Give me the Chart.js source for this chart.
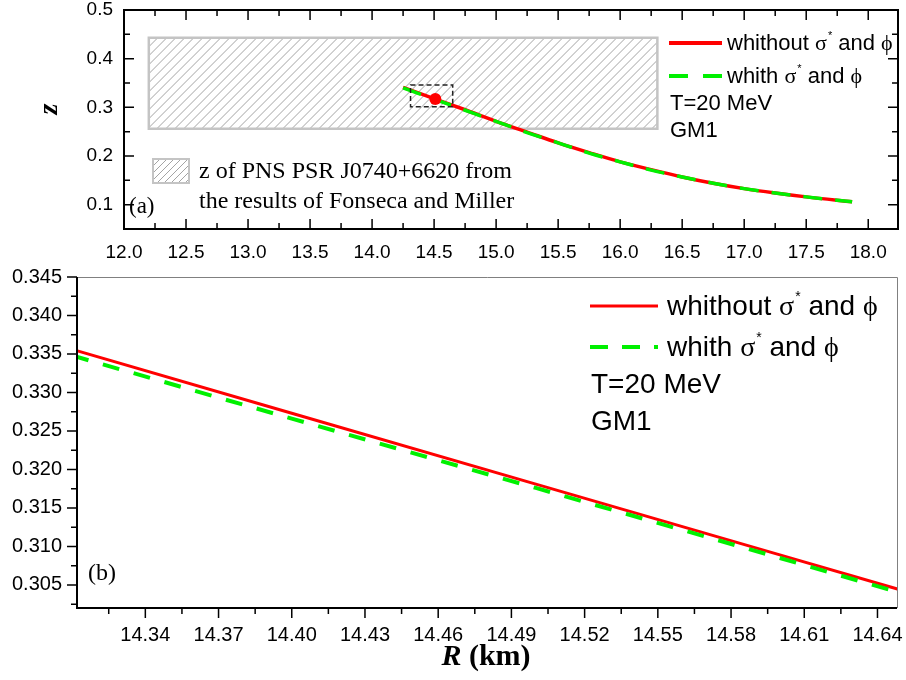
<!doctype html>
<html>
<head>
  <meta charset="UTF-8">
  <script src="https://cdn.jsdelivr.net/npm/chart.js"></script>
  <style>
    body { margin: 0; background: #fff; }
    #wrap { position: relative; width: 906px; height: 680px; }
    canvas { position: absolute; left: 0; }
  </style>
</head>
<body>
<div id="wrap">
  <canvas id="topChart" width="906" height="262" style="top:0"></canvas>
  <canvas id="zoomChart" width="906" height="418" style="top:262px"></canvas>
</div>
<script>
  // panel (a): z vs R, whole curve
  const rTop = [14.25, 14.5, 14.75, 15.0, 15.25, 15.5, 15.75, 16.0, 16.25, 16.5, 16.75, 17.0, 17.25, 17.5, 17.87];
  const zTopNoHyp = [0.341, 0.318, 0.295, 0.271, 0.249, 0.227, 0.207, 0.188, 0.172, 0.157, 0.144, 0.133, 0.124, 0.116, 0.106];
  const zTopHyp = [0.340, 0.317, 0.294, 0.271, 0.248, 0.227, 0.206, 0.188, 0.171, 0.157, 0.144, 0.133, 0.124, 0.116, 0.106];
  const topTicksX = [12.0, 12.5, 13.0, 13.5, 14.0, 14.5, 15.0, 15.5, 16.0, 16.5, 17.0, 17.5, 18.0];
  const topTicksY = [0.1, 0.2, 0.3, 0.4, 0.5];

  // PSR J0740+6620 band, zoom box and marked star
  const bandR = [12.2, 16.3];
  const bandZ = [0.256, 0.443];
  const boxR = [14.31, 14.65];
  const boxZ = [0.301, 0.346];
  const starR = [14.51];
  const starZ = [0.317];

  // panel (b): zoom
  const rZoom = [14.31, 14.40, 14.50, 14.60, 14.65];
  const zZoomNoHyp = [0.3356, 0.3273, 0.3181, 0.3089, 0.3043];
  const zZoomHyp = [0.3348, 0.3266, 0.3176, 0.3085, 0.3039];
  const zoomTicksX = [14.34, 14.37, 14.40, 14.43, 14.46, 14.49, 14.52, 14.55, 14.58, 14.61, 14.64];
  const zoomTicksY = [0.305, 0.310, 0.315, 0.320, 0.325, 0.330, 0.335, 0.340, 0.345];

  const RED = '#ff0000';
  const GREEN = '#00f000';
  const SANS = '"Liberation Sans", Arial, sans-serif';
  const SERIF = '"Liberation Serif", "Times New Roman", serif';

  const pts = (xs, ys) => xs.map((x, i) => ({ x: x, y: ys[i] }));

  // minor ticks halfway between majors, plus one step outside if still on the axis
  function minors(major, min, max) {
    const step = major[1] - major[0];
    const out = [];
    const list = [major[0] - step].concat(major);
    for (let i = 0; i < list.length; i++) {
      const m = list[i] + step / 2;
      if (m > min && m < max) out.push(m);
    }
    return out;
  }

  function sigmaLabel(ctx, x, y, size, word) {
    ctx.textAlign = 'left';
    ctx.textBaseline = 'alphabetic';
    ctx.font = size + 'px ' + SANS;
    ctx.fillText(word + ' ', x, y);
    x += ctx.measureText(word + ' ').width;
    ctx.font = size + 'px ' + SERIF;
    ctx.fillText('σ', x, y);
    x += ctx.measureText('σ').width;
    ctx.font = Math.round(size * 0.5) + 'px ' + SANS;
    ctx.fillText('*', x + 1, y - size * 0.5);
    x += ctx.measureText('*').width + 1;
    ctx.font = size + 'px ' + SANS;
    ctx.fillText(' and ', x, y);
    x += ctx.measureText(' and ').width;
    ctx.font = size + 'px ' + SERIF;
    ctx.fillText('ϕ', x, y);
  }

  function legendLine(ctx, x0, x1, y, color, width, dash) {
    ctx.save();
    ctx.strokeStyle = color;
    ctx.lineWidth = width;
    ctx.setLineDash(dash);
    ctx.beginPath();
    ctx.moveTo(x0, y);
    ctx.lineTo(x1, y);
    ctx.stroke();
    ctx.restore();
  }

  function hatchRect(ctx, x0, y0, x1, y1, step, border) {
    ctx.save();
    ctx.fillStyle = '#fff';
    ctx.fillRect(x0, y0, x1 - x0, y1 - y0);
    ctx.beginPath();
    ctx.rect(x0, y0, x1 - x0, y1 - y0);
    ctx.clip();
    ctx.strokeStyle = '#a4a4a4';
    ctx.lineWidth = 1;
    ctx.beginPath();
    const h = y1 - y0;
    for (let x = x0 - h; x < x1 + step; x += step) {
      ctx.moveTo(x, y1);
      ctx.lineTo(x + h, y0);
    }
    ctx.stroke();
    ctx.restore();
    ctx.save();
    ctx.strokeStyle = '#c4c4c4';
    ctx.lineWidth = border;
    ctx.strokeRect(x0, y0, x1 - x0, y1 - y0);
    ctx.restore();
  }

  const topPanel = {
    id: 'topPanel',
    beforeDatasetsDraw(chart) {
      const ctx = chart.ctx, xs = chart.scales.x, ys = chart.scales.y;
      hatchRect(ctx, xs.getPixelForValue(bandR[0]), ys.getPixelForValue(bandZ[1]),
        xs.getPixelForValue(bandR[1]), ys.getPixelForValue(bandZ[0]), 9, 2.5);
    },
    afterDatasetsDraw(chart) {
      const ctx = chart.ctx, xs = chart.scales.x, ys = chart.scales.y, a = chart.chartArea;
      ctx.save();
      // zoom box
      ctx.strokeStyle = '#222';
      ctx.lineWidth = 1.5;
      ctx.setLineDash([5, 3]);
      const bx0 = xs.getPixelForValue(boxR[0]), bx1 = xs.getPixelForValue(boxR[1]);
      const by0 = ys.getPixelForValue(boxZ[1]), by1 = ys.getPixelForValue(boxZ[0]);
      ctx.strokeRect(bx0, by0, bx1 - bx0, by1 - by0);
      ctx.setLineDash([]);

      // frame and inward ticks
      ctx.strokeStyle = '#000';
      ctx.lineWidth = 2;
      ctx.strokeRect(a.left, a.top, a.right - a.left, a.bottom - a.top);
      ctx.lineWidth = 1.5;
      ctx.beginPath();
      const tx = (v, len) => {
        const p = xs.getPixelForValue(v);
        ctx.moveTo(p, a.bottom); ctx.lineTo(p, a.bottom - len);
        ctx.moveTo(p, a.top); ctx.lineTo(p, a.top + len);
      };
      const ty = (v, len) => {
        const p = ys.getPixelForValue(v);
        ctx.moveTo(a.left, p); ctx.lineTo(a.left + len, p);
        ctx.moveTo(a.right, p); ctx.lineTo(a.right - len, p);
      };
      topTicksX.forEach(v => tx(v, 10));
      minors(topTicksX, xs.min, xs.max).forEach(v => tx(v, 6));
      topTicksY.forEach(v => ty(v, 10));
      minors(topTicksY, ys.min, ys.max).forEach(v => ty(v, 6));
      ctx.stroke();

      // legend
      legendLine(ctx, 669, 722, 43, RED, 4, []);
      legendLine(ctx, 669, 722, 76, GREEN, 4, [19, 15]);
      ctx.fillStyle = '#000';
      sigmaLabel(ctx, 727, 50, 22, 'whithout');
      sigmaLabel(ctx, 727, 83, 22, 'whith');
      ctx.font = '22px ' + SANS;
      ctx.fillText('T=20 MeV', 670, 110);
      ctx.fillText('GM1', 670, 137);

      // band legend
      hatchRect(ctx, 153, 159, 189, 183, 7, 2);
      ctx.fillStyle = '#000';
      ctx.font = '24px ' + SERIF;
      ctx.textAlign = 'left';
      ctx.fillText('z of PNS PSR J0740+6620 from', 199, 178);
      ctx.fillText('the results of Fonseca and Miller', 199, 208);
      ctx.font = '23px ' + SERIF;
      ctx.fillText('(a)', 129, 213);

      // y title
      ctx.translate(50, 109);
      ctx.rotate(-Math.PI / 2);
      ctx.textAlign = 'center';
      ctx.textBaseline = 'middle';
      ctx.font = 'italic bold 28px ' + SERIF;
      ctx.fillText('z', 0, 0);
      ctx.restore();
    }
  };

  const zoomPanel = {
    id: 'zoomPanel',
    afterDatasetsDraw(chart) {
      const ctx = chart.ctx, xs = chart.scales.x, ys = chart.scales.y, a = chart.chartArea;
      ctx.save();
      ctx.strokeStyle = '#808080';
      ctx.lineWidth = 1;
      ctx.beginPath();
      ctx.moveTo(a.left, a.top + 0.5); ctx.lineTo(a.right + 0.5, a.top + 0.5); ctx.lineTo(a.right + 0.5, a.bottom);
      ctx.stroke();

      ctx.strokeStyle = '#000';
      ctx.lineWidth = 2;
      ctx.beginPath();
      ctx.moveTo(a.left, a.top); ctx.lineTo(a.left, a.bottom); ctx.lineTo(a.right, a.bottom);
      ctx.stroke();

      ctx.lineWidth = 1.5;
      ctx.beginPath();
      const tx = (v, len) => {
        const p = xs.getPixelForValue(v);
        ctx.moveTo(p, a.bottom); ctx.lineTo(p, a.bottom + len);
      };
      const ty = (v, len) => {
        const p = ys.getPixelForValue(v);
        ctx.moveTo(a.left, p); ctx.lineTo(a.left - len, p);
      };
      zoomTicksX.forEach(v => tx(v, 10));
      minors(zoomTicksX, xs.min, xs.max).forEach(v => tx(v, 6));
      zoomTicksY.forEach(v => ty(v, 10));
      minors(zoomTicksY, ys.min, ys.max).forEach(v => ty(v, 6));
      ctx.stroke();

      // legend
      legendLine(ctx, 590, 658, 44, RED, 3, []);
      legendLine(ctx, 590, 658, 85, GREEN, 4, [18, 14]);
      ctx.fillStyle = '#000';
      sigmaLabel(ctx, 667, 53, 28, 'whithout');
      sigmaLabel(ctx, 667, 94, 28, 'whith');
      ctx.font = '28px ' + SANS;
      ctx.fillText('T=20 MeV', 591, 131);
      ctx.fillText('GM1', 591, 168);

      ctx.font = '24px ' + SERIF;
      ctx.fillText('(b)', 88, 318);

      // x title: R (km)
      ctx.font = 'italic bold 30px ' + SERIF;
      const wR = ctx.measureText('R').width;
      ctx.font = 'bold 30px ' + SERIF;
      const wRest = ctx.measureText(' (km)').width;
      const x0 = 486 - (wR + wRest) / 2;
      ctx.font = 'italic bold 30px ' + SERIF;
      ctx.fillText('R', x0, 403);
      ctx.font = 'bold 30px ' + SERIF;
      ctx.fillText(' (km)', x0 + wR, 403);
      ctx.restore();
    }
  };

  // spacing between axis and labels comes from invisible tick marks,
  // so the tick padding does not eat into the plot area
  const gap = len => ({ display: true, drawOnChartArea: false, drawTicks: true, tickLength: len, color: 'rgba(0,0,0,0)' });
  const fontTop = { family: SANS, size: 19, lineHeight: 1 };
  const fontZoom = { family: SANS, size: 20, lineHeight: 1 };

  new Chart(document.getElementById('topChart'), {
    type: 'scatter',
    data: {
      datasets: [
        { data: pts(starR, starZ), pointRadius: 6, pointHoverRadius: 6, backgroundColor: RED, borderWidth: 0, order: 0 },
        { data: pts(rTop, zTopHyp), showLine: true, borderColor: GREEN, borderWidth: 3.5, borderDash: [19, 13],
          pointRadius: 0, cubicInterpolationMode: 'monotone', order: 1 },
        { data: pts(rTop, zTopNoHyp), showLine: true, borderColor: RED, borderWidth: 3.5,
          pointRadius: 0, cubicInterpolationMode: 'monotone', order: 2 }
      ]
    },
    options: {
      responsive: false,
      animation: false,
      layout: { padding: { left: 0, right: 8, top: 10, bottom: 0 } },
      plugins: { legend: { display: false }, tooltip: { enabled: false } },
      scales: {
        x: {
          type: 'linear', min: 12, max: 18.24,
          grid: gap(14),
          border: { display: false },
          ticks: { color: '#000', font: fontTop, padding: 0, maxRotation: 0, autoSkip: false,
            callback: v => v.toFixed(1) },
          afterBuildTicks: s => { s.ticks = topTicksX.map(v => ({ value: v })); },
          afterFit: s => { s.height = 33; }
        },
        y: {
          type: 'linear', min: 0.05, max: 0.5,
          grid: gap(11),
          border: { display: false },
          ticks: { color: '#000', font: fontTop, padding: 0, autoSkip: false,
            callback: v => v.toFixed(1) },
          afterBuildTicks: s => { s.ticks = topTicksY.map(v => ({ value: v })); },
          afterFit: s => { s.width = 124; }
        }
      }
    },
    plugins: [topPanel]
  });

  new Chart(document.getElementById('zoomChart'), {
    type: 'scatter',
    data: {
      datasets: [
        { data: pts(rZoom, zZoomHyp), showLine: true, borderColor: GREEN, borderWidth: 4, borderDash: [17, 15],
          pointRadius: 0, clip: 0, order: 1 },
        { data: pts(rZoom, zZoomNoHyp), showLine: true, borderColor: RED, borderWidth: 3,
          pointRadius: 0, clip: 0, order: 2 }
      ]
    },
    options: {
      responsive: false,
      animation: false,
      layout: { padding: { left: 0, right: 9, top: 15, bottom: 0 } },
      plugins: { legend: { display: false }, tooltip: { enabled: false } },
      scales: {
        x: {
          type: 'linear', min: 14.312, max: 14.648,
          grid: gap(17),
          border: { display: false },
          ticks: { color: '#000', font: fontZoom, padding: 0, maxRotation: 0, autoSkip: false,
            callback: v => v.toFixed(2) },
          afterBuildTicks: s => { s.ticks = zoomTicksX.map(v => ({ value: v })); },
          afterFit: s => { s.height = 72; }
        },
        y: {
          type: 'linear', min: 0.302, max: 0.345,
          grid: gap(15),
          border: { display: false },
          ticks: { color: '#000', font: fontZoom, padding: 0, autoSkip: false,
            callback: v => v.toFixed(3) },
          afterBuildTicks: s => { s.ticks = zoomTicksY.map(v => ({ value: v })); },
          afterFit: s => { s.width = 77; }
        }
      }
    },
    plugins: [zoomPanel]
  });
</script>
</body>
</html>
